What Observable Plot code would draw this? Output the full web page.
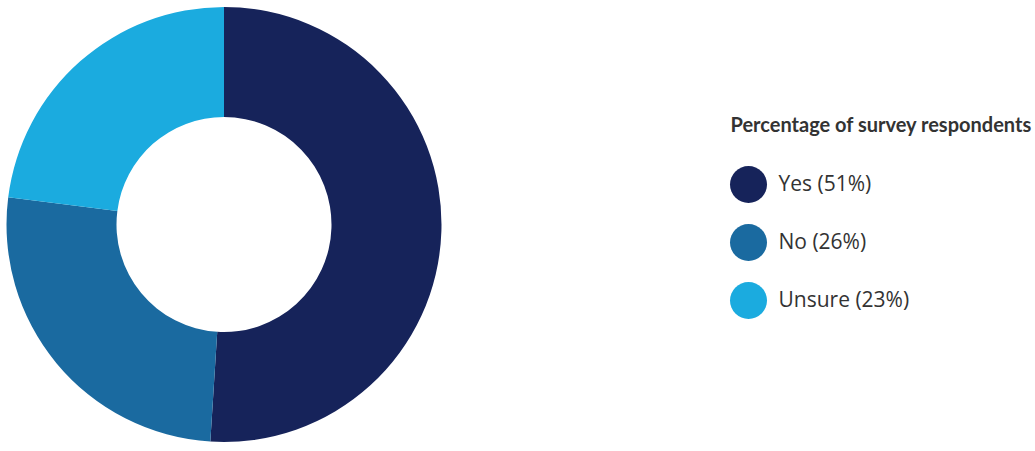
<!DOCTYPE html>
<html>
<head>
<meta charset="utf-8">
<script src="https://cdn.jsdelivr.net/npm/d3@7"></script>
<script src="https://cdn.jsdelivr.net/npm/@observablehq/plot@0.6"></script>
<style>
  html, body { margin: 0; padding: 0; background: #fff; }
  #chart svg { display: block; }
</style>
</head>
<body>
<div id="chart"></div>
<script>
const categories = ["Yes", "No", "Unsure"];
const values = [51, 26, 23];
const colors = ["#16235a", "#1a6aa0", "#1babdf"];
const legendTitle = "Percentage of survey respondents";

const data = categories.map((c, i) => ({category: c, value: values[i]}));

function donut(index, scales, vals, dimensions, context) {
  const pie = d3.pie().sort(null).value(d => d.value)(data);
  const arc = d3.arc().innerRadius(107.5).outerRadius(217.5);
  const g = d3.create("svg:g").attr("transform", "translate(224,224.5)");
  g.selectAll("path").data(pie).join("path")
    .attr("d", arc)
    .attr("fill", d => scales.color(d.data.category));
  return g.node();
}

const chart = Plot.plot({
  width: 1035,
  height: 451,
  margin: 0,
  x: {axis: null, domain: [0, 1]},
  y: {axis: null, type: "point", domain: categories, range: [184, 300], padding: 0},
  color: {domain: categories, range: colors},
  style: {fontFamily: "'Open Sans', sans-serif", background: "#fff"},
  marks: [
    donut,
    Plot.dot(data, {y: "category", fill: "category", r: 18.5, frameAnchor: "left", dx: 748}),
    Plot.text(data, {
      y: "category", frameAnchor: "left", dx: 778, textAnchor: "start",
      text: d => `${d.category} (${d.value}%)`,
      fontSize: 21, fill: "#333"
    }),
    Plot.text([legendTitle], {
      frameAnchor: "top-left", dx: 730, dy: 125, lineAnchor: "middle", textAnchor: "start",
      text: d => d, fontSize: 20, fontWeight: "bold", fill: "#333",
      fontFamily: "Lato, sans-serif"
    })
  ]
});
document.getElementById("chart").append(chart);
</script>
</body>
</html>
